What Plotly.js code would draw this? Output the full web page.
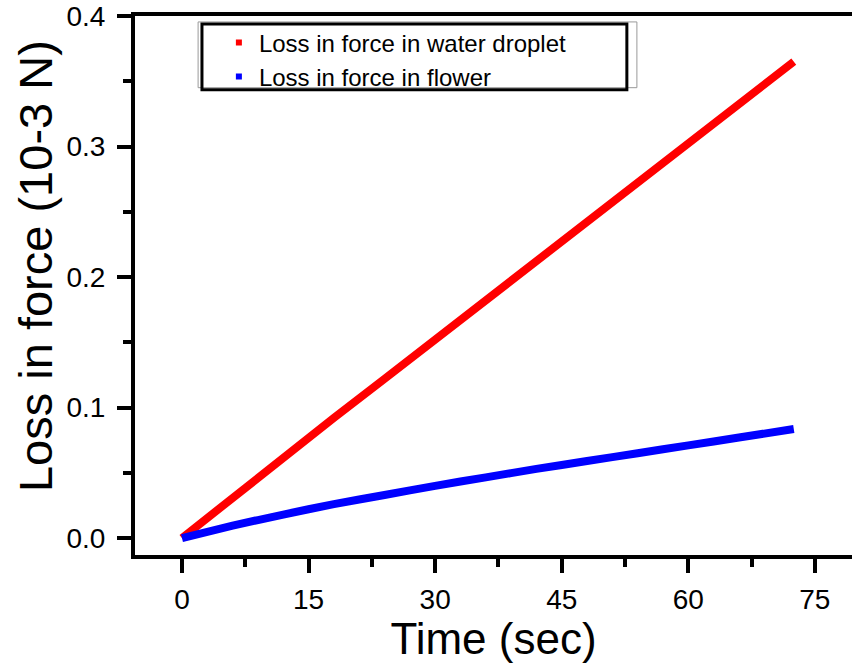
<!DOCTYPE html>
<html><head><meta charset="utf-8">
<script src="https://cdn.plot.ly/plotly-3.0.1.min.js"></script>
<style>html,body{margin:0;padding:0;background:#fff}#chart{width:852px;height:663px}</style>
</head><body><div id="chart"></div>
<script>
var timeSec = [0, 6, 12, 18, 24, 30, 36, 42, 48, 54, 60, 66, 72.5];
var waterDroplet = [0, 0.031, 0.062, 0.092, 0.122, 0.152, 0.182, 0.212, 0.242, 0.272, 0.302, 0.332, 0.365];
var flower = [0, 0.0095, 0.018, 0.026, 0.033, 0.040, 0.0465, 0.053, 0.059, 0.065, 0.071, 0.077, 0.0835];
var seriesNames = ['Loss in force in water droplet', 'Loss in force in flower'];
var xTicks = [0, 15, 30, 45, 60, 75];
var yTicks = [0.0, 0.1, 0.2, 0.3, 0.4];
var yTickText = ['0.0', '0.1', '0.2', '0.3', '0.4'];
var xTitle = 'Time (sec)';
var yTitle = 'Loss in force (10-3 N)';

var traces = [
  {x: timeSec, y: waterDroplet, mode: 'lines', line: {color: '#ff0000', width: 8}, showlegend: false},
  {x: timeSec, y: flower, mode: 'lines', line: {color: '#0000ff', width: 8, shape: 'spline', smoothing: 0.5}, showlegend: false},
  {x: [null], y: [null], mode: 'markers', name: seriesNames[0], marker: {color: '#ff0000', symbol: 'square', size: 6}},
  {x: [null], y: [null], mode: 'markers', name: seriesNames[1], marker: {color: '#0000ff', symbol: 'square', size: 6}}
];

var layout = {
  width: 852, height: 663,
  margin: {l: 135, r: 0, t: 16, b: 108},
  paper_bgcolor: '#fff', plot_bgcolor: '#fff',
  font: {family: 'Liberation Sans, Arial, sans-serif', color: '#000'},
  showlegend: true,
  legend: {x: 0.117, y: 0.992, xanchor: 'left', yanchor: 'top', bgcolor: 'rgba(0,0,0,0)', borderwidth: 0,
           font: {size: 24, color: '#000'}, tracegroupgap: 0, itemwidth: 30},
  xaxis: {
    range: [-5.57, 79.4], tickvals: xTicks, ticks: 'outside', ticklen: 14, tickwidth: 4, tickcolor: '#000',
    showline: true, linewidth: 4, linecolor: '#000', mirror: true, showgrid: false, zeroline: false,
    tickfont: {size: 28}, ticklabelstandoff: 2, title: {text: xTitle, font: {size: 44}, standoff: 0},
    minor: {tickvals: [7.5, 22.5, 37.5, 52.5, 67.5], ticks: 'outside', ticklen: 8, tickwidth: 4, tickcolor: '#000'}
  },
  yaxis: {
    range: [-0.013, 0.4], tickvals: yTicks, ticktext: yTickText, ticks: 'outside', ticklen: 14, tickwidth: 4, tickcolor: '#000',
    showline: true, linewidth: 4, linecolor: '#000', showgrid: false, zeroline: false,
    tickfont: {size: 28}, ticklabelstandoff: 6,
    minor: {tickvals: [0.05, 0.15, 0.25, 0.35], ticks: 'outside', ticklen: 8, tickwidth: 4, tickcolor: '#000'}
  },
  annotations: [
    {text: yTitle, xref: 'paper', yref: 'paper', x: -0.1395, y: 0.536, xanchor: 'center', yanchor: 'middle',
     textangle: -90, showarrow: false, font: {size: 47, color: '#000'}}
  ],
  shapes: [
    {type: 'rect', xref: 'paper', yref: 'paper', x0: 0.088, x1: 0.70, y0: 0.867, y1: 0.989,
     line: {color: '#999', width: 1}},
    {type: 'rect', xref: 'paper', yref: 'paper', x0: 0.0934, x1: 0.686, y0: 0.863, y1: 0.985,
     line: {color: '#000', width: 3}}
  ]
};

Plotly.newPlot('chart', traces, layout, {displayModeBar: false, staticPlot: true});
</script></body></html>
